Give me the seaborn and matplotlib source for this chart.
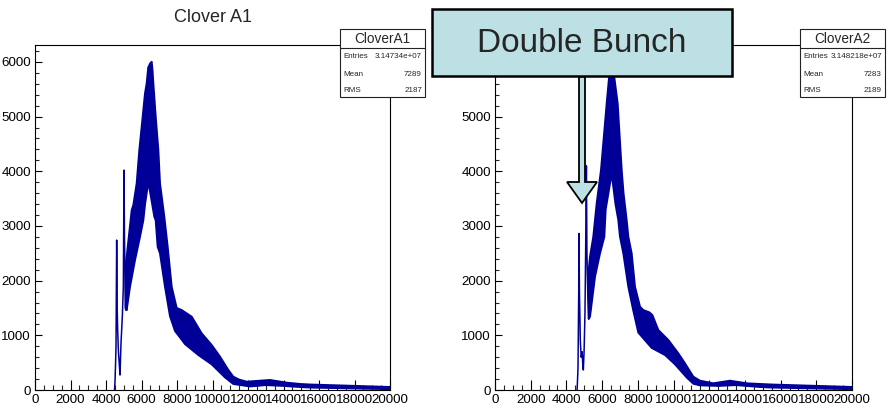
import numpy as np
import pandas as pd
import matplotlib
matplotlib.use("Agg")
import matplotlib.pyplot as plt
import seaborn as sns
from matplotlib.patches import Rectangle, Polygon
from matplotlib.lines import Line2D

# ---------------- data ----------------
# Clover A1: thin spikes region
a1_spike_x = [4480, 4507, 4540, 4564, 4601, 4630, 4657, 4700, 4733, 4789, 4845, 4920,
              4977, 5014, 5040, 5070, 5108, 5166]
a1_spike_y = [0, 150, 500, 800, 2742, 1500, 1097, 700, 548, 274, 853, 1340,
              1888, 4022, 2800, 2194, 1462, 1462]
# Clover A1: outer (upper) and inner (lower) envelope of the noisy band
a1_up_x = [5100, 5166, 5447, 5540, 5728, 5878, 6010, 6197, 6291, 6380, 6500, 6573, 6620,
           6667, 6800, 6949, 7042, 7285, 7474, 7512, 7700, 7982, 8263, 8827, 9390, 9953,
           10423, 10892, 11174, 11500, 11925, 12677, 13240, 14179, 14930, 15500, 16500,
           17500, 18500, 19500, 20000]
a1_up_y = [2300, 2437, 3290, 3382, 3778, 4387, 4814, 5423, 5606, 5900, 5980, 6002, 5850,
           5606, 5000, 4387, 3778, 3168, 2620, 2499, 1888, 1500, 1462, 1341, 1036, 823,
           609, 366, 243, 190, 152, 170, 183, 134, 110, 100, 90,
           80, 70, 60, 55]
a1_lo_x = [5100, 5164, 5352, 5634, 5916, 6104, 6200, 6385, 6550, 6723, 6799, 6910, 7042,
           7324, 7606, 7888, 8451, 9202, 9953, 10705, 11174, 12113, 13000, 14000, 14930,
           15500, 17000, 18500, 20000]
a1_lo_y = [1500, 1462, 1888, 2376, 2803, 3108, 3400, 3808, 3500, 3168, 3108, 2620, 2499,
           1888, 1350, 1080, 840, 640, 470, 230, 110, 65, 90, 75, 55,
           45, 35, 25, 15]

# Clover A2
a2_spike_x = [4600, 4650, 4690, 4706, 4730, 4780, 4830, 4880, 4920, 4949, 4990, 5040,
              5080, 5120, 5150, 5200, 5250]
a2_spike_y = [0, 400, 1800, 2864, 1800, 900, 600, 700, 450, 366, 700, 1400,
              2600, 4100, 2500, 1700, 1300]
a2_up_x = [5250, 5322, 5507, 5697, 5938, 6257, 6400, 6536, 6650, 6872, 7097, 7200, 7376,
           7469, 7656, 7843, 8123, 8310, 8650, 8814, 9150, 9710, 10270, 10644, 11110,
           11483, 12231, 13165, 14099, 14846, 15500, 16500, 17500, 18500, 19500, 20000]
a2_up_y = [2200, 2437, 2803, 3413, 4022, 5241, 5750, 5950, 5800, 5241, 4022, 3600, 3108,
           2803, 2499, 1888, 1523, 1462, 1420, 1371, 1097, 914, 670, 487, 243,
           170, 122, 170, 122, 110, 100, 90, 80, 70, 60, 55]
a2_lo_x = [5250, 5322, 5602, 5882, 6125, 6200, 6536, 6750, 6909, 7003, 7190, 7469, 7750,
           8030, 8778, 9523, 10083, 10737, 11110, 11483, 12500, 13500, 14846, 15500,
           17000, 18500, 20000]
a2_lo_y = [1300, 1341, 2072, 2499, 2803, 3300, 3961, 3400, 3108, 2803, 2499, 1888, 1450,
           1050, 770, 640, 470, 230, 115, 85, 75, 90, 55, 45,
           35, 25, 15]

titles = ["Clover A1", "Clover A2"]
stat_names = ["CloverA1", "CloverA2"]
stat_entries = ["3.14734e+07", "3.148218e+07"]
stat_mean = ["7289", "7283"]
stat_rms = ["2187", "2189"]
x_ticks = list(range(0, 20001, 2000))
y_ticks = list(range(0, 6001, 1000))
annotation = "Double Bunch"

# ---------------- styling ----------------
sns.set_style("ticks")
plt.rcParams['font.family'] = ['Liberation Sans', 'DejaVu Sans']

W, H = 894, 419
fig = plt.figure(figsize=(W / 100, H / 100), dpi=100)


def fx(px):
    return px / W


def fy(py):
    return 1 - py / H


NAVY = '#000099'

panels = [
    (35, 390, a1_spike_x, a1_spike_y, a1_up_x, a1_up_y, a1_lo_x, a1_lo_y),
    (495, 852, a2_spike_x, a2_spike_y, a2_up_x, a2_up_y, a2_lo_x, a2_lo_y),
]
axes = []
for i, (l, r, sx, sy, ux, uy, lx, ly) in enumerate(panels):
    ax = fig.add_axes([fx(l), fy(390), (r - l) / W, (390 - 45) / H])
    axes.append(ax)
    poly_x = list(ux) + list(lx)[::-1]
    poly_y = list(uy) + list(ly)[::-1]
    ax.fill(poly_x, poly_y, color=NAVY, lw=1.4, edgecolor=NAVY, joinstyle='round',
            zorder=2)
    df = pd.DataFrame({"x": sx, "y": sy})
    sns.lineplot(data=df, x="x", y="y", ax=ax, color=NAVY, lw=1.1, sort=False,
                 estimator=None, zorder=3)
    ax.set_xlim(0, 20000)
    ax.set_ylim(0, 6310)
    ax.set_xticks(x_ticks)
    ax.set_xticks(list(range(0, 20001, 500)), minor=True)
    ax.set_yticks(y_ticks)
    ax.set_yticks(list(range(0, 6301, 200)), minor=True)
    ax.set_xticklabels([str(t) for t in x_ticks])
    ax.set_yticklabels([str(t) for t in y_ticks])
    ax.tick_params(axis='both', which='major', direction='in', width=0.8,
                   labelsize=9.6, colors='black', pad=3)
    ax.tick_params(axis='x', which='major', length=7)
    ax.tick_params(axis='x', which='minor', direction='in', length=3.6, width=0.8)
    ax.tick_params(axis='y', which='major', length=5)
    ax.tick_params(axis='y', which='minor', direction='in', length=3, width=0.8)
    ax.tick_params(top=False, right=False, which='both')
    ax.set_xlabel("")
    ax.set_ylabel("")
    for s in ax.spines.values():
        s.set_color('black')
        s.set_linewidth(0.8)
    ax.set_facecolor('white')

# titles
fig.text(fx(213), fy(18), titles[0], ha='center', va='center', fontsize=13, zorder=1)
fig.text(fx(673), fy(18), titles[1], ha='center', va='center', fontsize=13, zorder=1)

# stats boxes
for (bl, br), name, ent, mean, rms in zip([(340, 425), (800, 885)], stat_names,
                                          stat_entries, stat_mean, stat_rms):
    fig.add_artist(Rectangle((fx(bl), fy(97)), (br - bl) / W, (97 - 29) / H,
                             transform=fig.transFigure, fc='white', ec='#222222',
                             lw=0.8, zorder=4))
    fig.add_artist(Line2D([fx(bl), fx(br)], [fy(48), fy(48)], transform=fig.transFigure,
                          color='#222222', lw=0.8, zorder=5))
    fig.text(fx((bl + br) / 2), fy(39), name, ha='center', va='center', fontsize=9.8,
             zorder=5)
    for row_y, lab, val in [(57, "Entries", ent), (74, "Mean", mean), (91, "RMS", rms)]:
        fig.text(fx(bl + 3), fy(row_y), lab, ha='left', va='center', fontsize=5.8, zorder=5)
        fig.text(fx(br - 3), fy(row_y), val, ha='right', va='center', fontsize=5.8,
                 zorder=5)

# Double Bunch callout
TEAL = '#bde0e4'
fig.add_artist(Rectangle((fx(432), fy(76)), 300 / W, 67 / H, transform=fig.transFigure,
                         fc=TEAL, ec='black', lw=1.8, zorder=6))
fig.text(fx(582), fy(44), annotation, ha='center', va='center', fontsize=24, zorder=7)
arrow_px = [(579, 77), (585, 77), (585, 182), (597, 182), (582, 203), (567, 182), (579, 182)]
fig.add_artist(Polygon([(fx(x), fy(y)) for x, y in arrow_px], closed=True,
                       transform=fig.transFigure, fc=TEAL, ec='black', lw=1.3, zorder=6))

fig.savefig("out.png", dpi=100, facecolor='white')
